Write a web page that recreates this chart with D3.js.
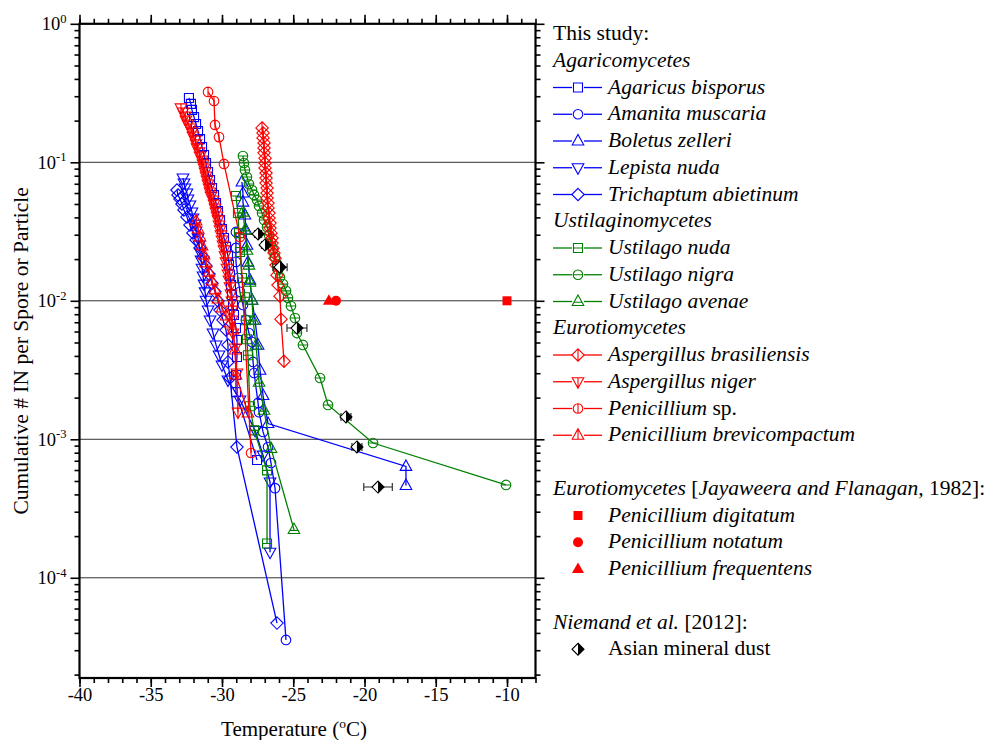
<!DOCTYPE html>
<html><head><meta charset="utf-8">
<script src="https://cdn.jsdelivr.net/npm/d3@7"></script>
<style>
body{margin:0;background:#fff}
svg{display:block}
text{font-family:"Liberation Serif","Times New Roman",serif;fill:#000}
</style>
</head><body>
<svg id="c" width="992" height="740"></svg>
<script>
// ---------- data (temperature in °C, cumulative IN per spore/particle) ----------
const xMajorTicks = [-40,-35,-30,-25,-20,-15,-10];
const yMajorTicks = [1,0.1,0.01,0.001,0.0001];
const yTickExponents = ["0","-1","-2","-3","-4"];

const agaricusT = [-32.32,-32.18,-32.11,-31.96,-31.82,-31.68,-31.54,-31.40,-31.26,-31.12,-30.98,-30.84,-30.70,-30.56,-30.42,-30.28,-30.14,-30.00,-29.86,-29.72,-29.58,-29.51,-29.44,-29.37,-29.30,-29.23,-29.16,-29.02,-28.95,-28.95,-29.02,-29.02,-27.54];
const agaricusV = [0.291,0.264,0.239,0.212,0.189,0.168,0.147,0.129,0.113,0.0989,0.0851,0.0745,0.0652,0.0580,0.0508,0.0445,0.0383,0.0330,0.0284,0.0245,0.0211,0.0182,0.0154,0.0130,0.0110,0.00933,0.00789,0.00636,0.00521,0.00393,0.00291,0.00219,0.000708];

const amanitaT = [-29.02,-29.02,-29.02,-28.88,-28.74,-28.53,-28.32,-28.11,-27.89,-27.82,-27.75,-27.47,-27.40,-27.12,-26.77,-26.56,-26.28,-25.51];
const amanitaV = [0.0314,0.0241,0.0191,0.0146,0.0116,0.00933,0.00727,0.00585,0.00504,0.00362,0.00301,0.00183,0.00157,0.00113,0.000880,0.000674,0.000444,0.0000356];

const boletusT = [-28.60,-28.53,-28.53,-28.39,-28.32,-28.25,-28.18,-28.04,-27.89,-27.68,-27.47,-27.33,-27.12,-26.77,-17.09,-17.09];
const boletusV = [0.0721,0.0600,0.0516,0.0416,0.0324,0.0252,0.0190,0.0141,0.0101,0.00724,0.00478,0.00315,0.00207,0.00130,0.000637,0.000464];

const lepistaT = [-32.74,-32.67,-32.60,-32.46,-32.39,-32.25,-32.11,-32.04,-31.89,-31.82,-31.68,-31.61,-31.54,-31.47,-31.40,-31.33,-31.26,-31.19,-31.12,-30.98,-30.84,-30.63,-30.42,-30.21,-30.00,-29.58,-28.74,-27.68,-27.12,-26.63,-26.63];
const lepistaV = [0.0770,0.0709,0.0652,0.0600,0.0543,0.0492,0.0438,0.0396,0.0358,0.0319,0.0284,0.0253,0.0225,0.0197,0.0172,0.0151,0.0132,0.0116,0.0101,0.00859,0.00727,0.00585,0.00480,0.00406,0.00344,0.00268,0.00192,0.00116,0.000769,0.000492,0.000153];

const trichaptumT = [-33.16,-33.09,-32.95,-32.81,-32.67,-32.46,-32.25,-32.04,-31.82,-31.54,-31.33,-31.12,-30.91,-30.70,-30.49,-30.28,-30.14,-29.93,-29.72,-29.58,-29.58,-29.44,-28.95,-26.14];
const trichaptumV = [0.0631,0.0581,0.0543,0.0500,0.0453,0.0403,0.0353,0.0309,0.0275,0.0241,0.0207,0.0178,0.0156,0.0134,0.0116,0.00996,0.00857,0.00726,0.00615,0.00480,0.00362,0.00277,0.000879,0.0000471];

const ustNudaT = [-29.02,-28.88,-28.81,-28.74,-28.60,-28.39,-28.32,-28.25,-28.18,-28.04,-27.75,-26.84,-26.84];
const ustNudaV = [0.0571,0.0430,0.0308,0.0225,0.0146,0.0106,0.00724,0.00528,0.00404,0.00173,0.00116,0.000596,0.000177];

const ustNigraT = [-28.53,-28.46,-28.39,-28.25,-28.11,-27.89,-27.75,-27.54,-27.40,-27.19,-27.05,-26.84,-26.70,-26.56,-26.42,-26.28,-26.14,-26.07,-25.93,-25.72,-25.51,-25.37,-25.16,-24.88,-24.74,-24.32,-23.12,-22.56,-19.40,-10.07];
const ustNigraV = [0.111,0.0988,0.0880,0.0783,0.0697,0.0631,0.0580,0.0534,0.0484,0.0430,0.0383,0.0341,0.0299,0.0266,0.0233,0.0207,0.0184,0.0167,0.0148,0.0132,0.0118,0.0105,0.00916,0.00751,0.00585,0.00480,0.00277,0.00177,0.000940,0.000468];

const ustAvenaeT = [-28.53,-28.39,-28.25,-28.11,-28.04,-27.89,-27.82,-27.61,-27.40,-27.05,-26.56,-24.95];
const ustAvenaeV = [0.0437,0.0324,0.0232,0.0181,0.0136,0.0101,0.00724,0.00478,0.00258,0.00162,0.000859,0.000223];

const aspBrasT = [-27.19,-27.12,-27.12,-27.05,-27.05,-27.05,-26.98,-26.98,-26.98,-26.91,-26.91,-26.91,-26.84,-26.84,-26.84,-26.77,-26.77,-26.70,-26.70,-26.63,-26.63,-26.56,-26.49,-26.49,-26.42,-26.35,-26.28,-26.21,-26.14,-26.07,-25.93,-25.86,-25.65];
const aspBrasV = [0.177,0.163,0.150,0.138,0.127,0.117,0.107,0.0989,0.0910,0.0837,0.0770,0.0708,0.0652,0.0600,0.0552,0.0508,0.0468,0.0430,0.0396,0.0364,0.0335,0.0308,0.0284,0.0261,0.0240,0.0221,0.0203,0.0181,0.0153,0.0130,0.0108,0.00736,0.00366];

const aspNigerT = [-32.88,-32.74,-32.60,-32.53,-32.39,-32.25,-32.11,-32.04,-31.89,-31.82,-31.75,-31.61,-31.54,-31.40,-31.33,-31.26,-31.19,-31.12,-31.05,-30.98,-30.91,-30.84,-30.77,-30.63,-30.56,-30.49,-30.42,-30.35,-30.28,-30.21,-30.14,-30.07,-30.00,-29.93,-29.86,-29.79,-29.72,-29.65,-29.58,-29.51,-29.44,-29.37,-29.30,-29.30,-29.30,-29.23,-29.09,-28.95,-28.88];
const aspNigerV = [0.247,0.231,0.216,0.202,0.189,0.177,0.166,0.155,0.145,0.136,0.127,0.119,0.111,0.104,0.0973,0.0910,0.0851,0.0796,0.0745,0.0697,0.0652,0.0610,0.0571,0.0534,0.0500,0.0468,0.0438,0.0410,0.0384,0.0353,0.0325,0.0299,0.0275,0.0253,0.0233,0.0211,0.0191,0.0172,0.0156,0.0141,0.0126,0.0112,0.00996,0.00857,0.00727,0.00585,0.00456,0.00301,0.00157];

const penSpT = [-30.98,-30.56,-30.49,-30.21,-29.86,-28.74,-27.96];
const penSpV = [0.322,0.277,0.186,0.152,0.0973,0.0289,0.000796];

const penBrevT = [-31.82,-31.68,-31.54,-31.40,-31.26,-31.12,-30.91,-30.70,-30.49,-30.28,-30.00,-29.72,-29.44,-29.23,-29.09,-29.02,-28.18];
const penBrevV = [0.0377,0.0330,0.0289,0.0249,0.0214,0.0188,0.0161,0.0139,0.0120,0.0103,0.00888,0.00777,0.00691,0.00615,0.00441,0.00291,0.00155];

// Jayaweera and Flanagan (1982)
const penDigitatumT = [-10.0], penDigitatumV = [0.01];
const penNotatumT = [-22.0], penNotatumV = [0.01];
const penFrequentensT = [-22.5], penFrequentensV = [0.01];

// Niemand et al. (2012)
const dustT = [-27.47,-26.98,-25.93,-24.74,-21.30,-20.53,-19.05];
const dustV = [0.0304,0.0253,0.0175,0.00636,0.00145,0.000880,0.000452];
const dustErr = [0.25,0.25,0.5,0.7,0.35,0.35,1.0];

// ---------- setup ----------
const BLUE="#0000ff", GREEN="#008000", RED="#ff0000";
const svg = d3.select("#c");
const x = d3.scaleLinear().domain([-40,-8]).range([79.5,535.5]);
const y = d3.scaleLog().domain([1,1.89e-5]).range([23.8,678]);
const X0=x.range()[0], X1=x.range()[1], Y0=y.range()[0], Y1=y.range()[1];

// gridlines
svg.append("g").selectAll("line").data(yMajorTicks.slice(1)).join("line")
  .attr("x1",X0).attr("x2",X1).attr("y1",d=>y(d)).attr("y2",d=>y(d))
  .attr("stroke","#333").attr("stroke-width",1);

// axes
function styleAxis(g){ g.select(".domain").remove(); g.selectAll(".tick line").attr("stroke","#000").attr("stroke-width",1.6); }
const xMinor = d3.range(-40,-7,1);
const yMinor = y.ticks().filter(v=>Math.abs(Math.log10(v)-Math.round(Math.log10(v)))>1e-6);

svg.append("g").attr("transform",`translate(0,${Y1})`).call(d3.axisBottom(x).tickValues(xMinor).tickSize(5).tickFormat("")).call(styleAxis);
svg.append("g").attr("transform",`translate(0,${Y1})`).call(d3.axisBottom(x).tickValues(xMajorTicks).tickSize(9).tickPadding(1).tickFormat(d=>String(d)))
  .call(styleAxis).call(g=>g.selectAll("text").attr("font-size","18.5px").attr("font-family","'Liberation Serif',serif"));
svg.append("g").attr("transform",`translate(0,${Y0})`).call(d3.axisTop(x).tickValues(xMinor).tickSize(5).tickFormat("")).call(styleAxis);
svg.append("g").attr("transform",`translate(0,${Y0})`).call(d3.axisTop(x).tickValues(xMajorTicks).tickSize(9).tickFormat("")).call(styleAxis);

svg.append("g").attr("transform",`translate(${X0},0)`).call(d3.axisLeft(y).tickValues(yMinor).tickSize(5).tickFormat("")).call(styleAxis);
svg.append("g").attr("transform",`translate(${X0},0)`).call(d3.axisLeft(y).tickValues(yMajorTicks).tickSize(9).tickPadding(4).tickFormat(""))
  .call(styleAxis).call(g=>{
    g.selectAll(".tick text").each(function(d,i){
      const t=d3.select(this).attr("font-size","18.5px").attr("font-family","'Liberation Serif',serif");
      t.append("tspan").text("10");
      t.append("tspan").attr("font-size","12.5px").attr("dy","-7.5").text(yTickExponents[i]);
    });
  });
svg.append("g").attr("transform",`translate(${X1},0)`).call(d3.axisRight(y).tickValues(yMinor).tickSize(5).tickFormat("")).call(styleAxis);
svg.append("g").attr("transform",`translate(${X1},0)`).call(d3.axisRight(y).tickValues(yMajorTicks).tickSize(9).tickFormat("")).call(styleAxis);

svg.append("rect").attr("x",X0).attr("y",Y0).attr("width",X1-X0).attr("height",Y1-Y0)
  .attr("fill","none").attr("stroke","#000").attr("stroke-width",2.2);

// titles
const xt = svg.append("text").attr("x",294).attr("y",736).attr("text-anchor","middle").attr("font-size","21px");
xt.append("tspan").text("Temperature (");
xt.append("tspan").attr("font-size","13.5px").attr("dy","-8").text("o");
xt.append("tspan").attr("dy","8").text("C)");
svg.append("text").attr("transform",`translate(28,${(Y0+Y1)/2}) rotate(-90)`).attr("text-anchor","middle")
  .attr("font-size","21.5px").text("Cumulative # IN per Spore or Particle");

// marker shapes
function markerPath(shape,bar){
  let d="";
  if(shape==="square"){ d="M-4.5,-4.5H4.5V4.5H-4.5Z"; if(bar==="h") d+="M-4.5,0H4.5"; }
  else if(shape==="circle"){ d="M4.8,0A4.8,4.8 0 1,1 -4.8,0A4.8,4.8 0 1,1 4.8,0Z"; if(bar==="h") d+="M-4.8,0H4.8"; if(bar==="v") d+="M0,-4.8V4.8"; }
  else if(shape==="triUp"){ d="M0,-6.5L5.8,4H-5.8Z"; if(bar==="h") d+="M-4,0.8H4"; if(bar==="v") d+="M0,-6.5V4"; }
  else if(shape==="triDown"){ d="M0,6.5L5.8,-4H-5.8Z"; if(bar==="v") d+="M0,-4V6.5"; }
  else if(shape==="diamond"){ d="M0,-6.2L6.2,0L0,6.2L-6.2,0Z"; if(bar==="v") d+="M0,-6.2V6.2"; }
  return d;
}

const series = [
  {parts:[["Agaricus bisporus",1]], t:agaricusT, v:agaricusV, color:BLUE, shape:"square", bar:null, row:2},
  {parts:[["Amanita muscaria",1]], t:amanitaT, v:amanitaV, color:BLUE, shape:"circle", bar:null, row:3},
  {parts:[["Boletus zelleri",1]], t:boletusT, v:boletusV, color:BLUE, shape:"triUp", bar:null, row:4},
  {parts:[["Lepista nuda",1]], t:lepistaT, v:lepistaV, color:BLUE, shape:"triDown", bar:null, row:5},
  {parts:[["Trichaptum abietinum",1]], t:trichaptumT, v:trichaptumV, color:BLUE, shape:"diamond", bar:null, row:6},
  {parts:[["Ustilago nuda",1]], t:ustNudaT, v:ustNudaV, color:GREEN, shape:"square", bar:"h", row:8},
  {parts:[["Ustilago nigra",1]], t:ustNigraT, v:ustNigraV, color:GREEN, shape:"circle", bar:"h", row:9},
  {parts:[["Ustilago avenae",1]], t:ustAvenaeT, v:ustAvenaeV, color:GREEN, shape:"triUp", bar:"h", row:10},
  {parts:[["Aspergillus brasiliensis",1]], t:aspBrasT, v:aspBrasV, color:RED, shape:"diamond", bar:"v", row:12},
  {parts:[["Aspergillus niger",1]], t:aspNigerT, v:aspNigerV, color:RED, shape:"triDown", bar:"v", row:13},
  {parts:[["Penicillium",1],[" sp.",0]], t:penSpT, v:penSpV, color:RED, shape:"circle", bar:"v", row:14},
  {parts:[["Penicillium brevicompactum",1]], t:penBrevT, v:penBrevV, color:RED, shape:"triUp", bar:"v", row:15}
];

const line = d3.line().x(d=>x(d[0])).y(d=>y(d[1]));
const plot = svg.append("g");
series.forEach(s=>{
  const pts = s.t.map((t,i)=>[t,s.v[i]]);
  const g = plot.append("g");
  g.append("path").attr("d",line(pts)).attr("fill","none").attr("stroke",s.color).attr("stroke-width",1.3);
  g.selectAll("path.m").data(pts).join("path").attr("class","m")
    .attr("transform",d=>`translate(${x(d[0])},${y(d[1])})`)
    .attr("d",markerPath(s.shape,s.bar)).attr("fill","none").attr("stroke",s.color).attr("stroke-width",1.1);
});

// Jayaweera filled symbols
const filledSyms = {
  square: "M-4.5,-4.5H4.5V4.5H-4.5Z",
  circle: "M5,0A5,5 0 1,1 -5,0A5,5 0 1,1 5,0Z",
  tri: "M0,-6.5L6,4H-6Z"
};
const jay = [
  {parts:[["Penicillium digitatum",1]], t:penDigitatumT, v:penDigitatumV, sym:"square", row:18},
  {parts:[["Penicillium notatum",1]], t:penNotatumT, v:penNotatumV, sym:"circle", row:19},
  {parts:[["Penicillium frequentens",1]], t:penFrequentensT, v:penFrequentensV, sym:"tri", row:20}
];
jay.forEach(s=>{
  plot.append("g").selectAll("path").data(s.t.map((t,i)=>[t,s.v[i]])).join("path")
    .attr("transform",d=>`translate(${x(d[0])},${y(d[1])})`).attr("d",filledSyms[s.sym]).attr("fill",RED);
});

// Niemand dust with error bars
function dustMarker(g){
  g.append("path").attr("d","M0,-6L-6,0L0,6Z").attr("fill","#fff");
  g.append("path").attr("d","M0,-6L6,0L0,6Z").attr("fill","#000");
  g.append("path").attr("d","M0,-6L6,0L0,6L-6,0Z").attr("fill","none").attr("stroke","#000").attr("stroke-width",1.1);
}
const dustPts = dustT.map((t,i)=>({t:t,v:dustV[i],e:dustErr[i]}));
const dg = plot.append("g").selectAll("g").data(dustPts).join("g");
dg.append("path").attr("d",d=>{
  const a=x(d.t-d.e), b=x(d.t+d.e), yy=y(d.v);
  return `M${a},${yy}H${b}M${a},${yy-4}V${yy+4}M${b},${yy-4}V${yy+4}`;
}).attr("stroke","#222").attr("stroke-width",1.1).attr("fill","none");
dg.each(function(d){ const g=d3.select(this).append("g").attr("transform",`translate(${x(d.t)},${y(d.v)})`); dustMarker(g); });

// ---------- legend ----------
const LX=553, LMX=578, LTX=608, rowY = r => 40 + 26.75*r;
const leg = svg.append("g").attr("font-size","21.5px");
function addText(xp, r, parts){
  const t = leg.append("text").attr("x",xp).attr("y",rowY(r));
  parts.forEach(p=>t.append("tspan").attr("font-style",p[1]?"italic":"normal").text(p[0]));
}
addText(LX,0,[["This study:",0]]);
addText(LX,1,[["Agaricomycetes",1]]);
addText(LX,7,[["Ustilaginomycetes",1]]);
addText(LX,11,[["Eurotiomycetes",1]]);
addText(LX,17,[["Eurotiomycetes",1],[" [",0],["Jayaweera and Flanagan,",1],[" 1982]:",0]]);
addText(LX,22,[["Niemand et al.",1],[" [2012]:",0]]);
series.forEach(s=>{
  const yy = rowY(s.row)-6;
  leg.append("line").attr("x1",LX).attr("x2",LMX-6).attr("y1",yy).attr("y2",yy).attr("stroke",s.color).attr("stroke-width",1.3);
  leg.append("line").attr("x1",LMX+6).attr("x2",LMX+24).attr("y1",yy).attr("y2",yy).attr("stroke",s.color).attr("stroke-width",1.3);
  leg.append("path").attr("transform",`translate(${LMX},${yy})`).attr("d",markerPath(s.shape,s.bar)).attr("fill","none").attr("stroke",s.color).attr("stroke-width",1.1);
  addText(LTX,s.row,s.parts);
});
jay.forEach(s=>{
  leg.append("path").attr("transform",`translate(${LMX},${rowY(s.row)-6})`).attr("d",filledSyms[s.sym]).attr("fill",RED);
  addText(LTX,s.row,s.parts);
});
dustMarker(leg.append("g").attr("transform",`translate(${LMX},${rowY(23)-6})`));
addText(LTX,23,[["Asian mineral dust",0]]);
</script>
</body></html>
